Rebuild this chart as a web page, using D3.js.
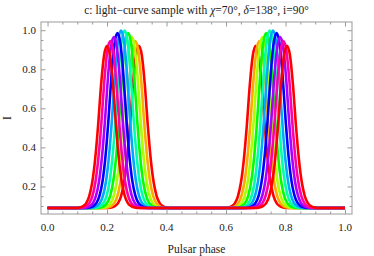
<!DOCTYPE html>
<html>
<head>
<meta charset="utf-8">
<script src="https://cdn.jsdelivr.net/npm/d3@7"></script>
<style>
  body { margin: 0; background: #fff; }
  svg { display: block; }
  text { font-family: "Liberation Serif", "Times New Roman", "DejaVu Serif", serif; }
</style>
</head>
<body>
<svg id="chart"></svg>
<script>
// hue of each curve (Mathematica Hue[h])
const hues = [0, 0.111, 0.222, 0.333, 0.444, 0.556, 0.667, 0.778, 0.889, 1];
// phase of the first and second pulse of each curve
const leftPeak = [0.307, 0.295, 0.283, 0.271, 0.259, 0.247, 0.235, 0.223, 0.211, 0.200];
const rightPeak = [0.700, 0.712, 0.723, 0.735, 0.747, 0.758, 0.770, 0.782, 0.793, 0.805];
// peak intensity of each curve
const peakI = [0.92, 0.945, 0.965, 0.985, 0.998, 0.998, 0.985, 0.965, 0.945, 0.92];
const baseI = 0.09;
// pulse profile: distance from peak, fraction of height
const profileDx = [0, 0.01, 0.02, 0.03, 0.04, 0.05, 0.06, 0.07, 0.08, 0.09, 0.1];
const profileFrac = [1, 0.94, 0.76, 0.51, 0.3, 0.155, 0.072, 0.03, 0.012, 0.004, 0];

const xTicks = [0, 0.2, 0.4, 0.6, 0.8, 1.0];
const yTicks = [0.2, 0.4, 0.6, 0.8, 1.0];

const width = 374, height = 256;
const margin = {top: 22, right: 22, bottom: 42, left: 41};
const fontFamily = "'Liberation Serif', 'Times New Roman', 'DejaVu Serif', serif";

const svg = d3.select("#chart")
    .attr("width", width)
    .attr("height", height);

const x = d3.scaleLinear()
    .domain([-0.022, 1.0235])
    .range([margin.left, width - margin.right]);

const y = d3.scaleLinear()
    .domain([0.059, 1.042])
    .range([height - margin.bottom, margin.top]);

// build one pulse around a peak from the profile
function pulse(c, peak) {
    const pts = [];
    for (let j = profileDx.length - 1; j > 0; j--)
        pts.push([c - profileDx[j], baseI + (peak - baseI) * profileFrac[j]]);
    for (let j = 0; j < profileDx.length; j++)
        pts.push([c + profileDx[j], baseI + (peak - baseI) * profileFrac[j]]);
    return pts;
}

const curves = hues.map((h, i) => ({
    hue: h,
    points: [[0, baseI]]
        .concat(pulse(leftPeak[i], peakI[i]))
        .concat(pulse(rightPeak[i], peakI[i]))
        .concat([[1, baseI]])
}));

const line = d3.line()
    .x(d => x(d[0]))
    .y(d => y(d[1]))
    .curve(d3.curveMonotoneX);

svg.append("g")
    .selectAll("path")
    .data(curves)
    .join("path")
    .attr("fill", "none")
    .attr("stroke", d => d3.hsl(d.hue * 360, 1, 0.5))
    .attr("stroke-width", 2.6)
    .attr("stroke-linejoin", "round")
    .attr("d", d => line(d.points));

// frame with ticks on all four sides
const frameColor = "#9a9a9a";
const xMinor = d3.range(0, 1.0001, 0.05).filter(v => Math.abs(v * 5 - Math.round(v * 5)) > 1e-6);
const yMinor = d3.range(0.1, 1.0001, 0.05).filter(v => Math.abs(v * 5 - Math.round(v * 5)) > 1e-6);

function frameAxis(axis, transform, major, minor) {
    const g = svg.append("g").attr("transform", transform);
    g.call(axis.tickValues(minor).tickSize(-2.5).tickFormat(""));
    g.call(gg => gg.selectAll(".domain").remove());
    const g2 = svg.append("g").attr("transform", transform);
    g2.call(axis.tickValues(major).tickSize(-4.5).tickFormat(""));
    g2.call(gg => gg.selectAll(".domain").remove());
    [g, g2].forEach(gg => gg.selectAll("line").attr("stroke", frameColor));
}

frameAxis(d3.axisBottom(x), `translate(0,${height - margin.bottom})`, xTicks, xMinor);
frameAxis(d3.axisTop(x), `translate(0,${margin.top})`, xTicks, xMinor);
frameAxis(d3.axisLeft(y), `translate(${margin.left},0)`, yTicks, yMinor);
frameAxis(d3.axisRight(y), `translate(${width - margin.right},0)`, yTicks, yMinor);

svg.append("rect")
    .attr("x", margin.left)
    .attr("y", margin.top)
    .attr("width", width - margin.left - margin.right)
    .attr("height", height - margin.top - margin.bottom)
    .attr("fill", "none")
    .attr("stroke", frameColor)
    .attr("stroke-width", 1);

// tick labels
svg.append("g")
    .selectAll("text")
    .data(xTicks)
    .join("text")
    .attr("x", d => x(d))
    .attr("y", height - margin.bottom + 17)
    .attr("text-anchor", "middle")
    .attr("font-family", fontFamily)
    .attr("font-size", 11)
    .attr("fill", "#222")
    .text(d => d.toFixed(1));

svg.append("g")
    .selectAll("text")
    .data(yTicks)
    .join("text")
    .attr("x", margin.left - 5)
    .attr("y", d => y(d) + 3.5)
    .attr("text-anchor", "end")
    .attr("font-family", fontFamily)
    .attr("font-size", 11)
    .attr("fill", "#222")
    .text(d => d.toFixed(1));

// axis titles
svg.append("text")
    .attr("x", (margin.left + width - margin.right) / 2)
    .attr("y", 253)
    .attr("text-anchor", "middle")
    .attr("font-family", fontFamily)
    .attr("font-size", 11.5)
    .attr("fill", "#222")
    .text("Pulsar phase");

svg.append("text")
    .attr("transform", `translate(11,${(margin.top + height - margin.bottom) / 2}) rotate(-90)`)
    .attr("text-anchor", "middle")
    .attr("font-family", fontFamily)
    .attr("font-size", 11.5)
    .attr("fill", "#222")
    .text("I");

const title = svg.append("text")
    .attr("x", (margin.left + width - margin.right) / 2)
    .attr("y", 14)
    .attr("text-anchor", "middle")
    .attr("font-family", fontFamily)
    .attr("font-size", 11.5)
    .attr("fill", "#222");
title.append("tspan").text("c: light\u2212curve sample with ");
title.append("tspan").attr("font-style", "italic").text("\u03C7");
title.append("tspan").text("=70\u00B0, ");
title.append("tspan").attr("font-style", "italic").text("\u03B4");
title.append("tspan").text("=138\u00B0, i=90\u00B0");
</script>
</body>
</html>
